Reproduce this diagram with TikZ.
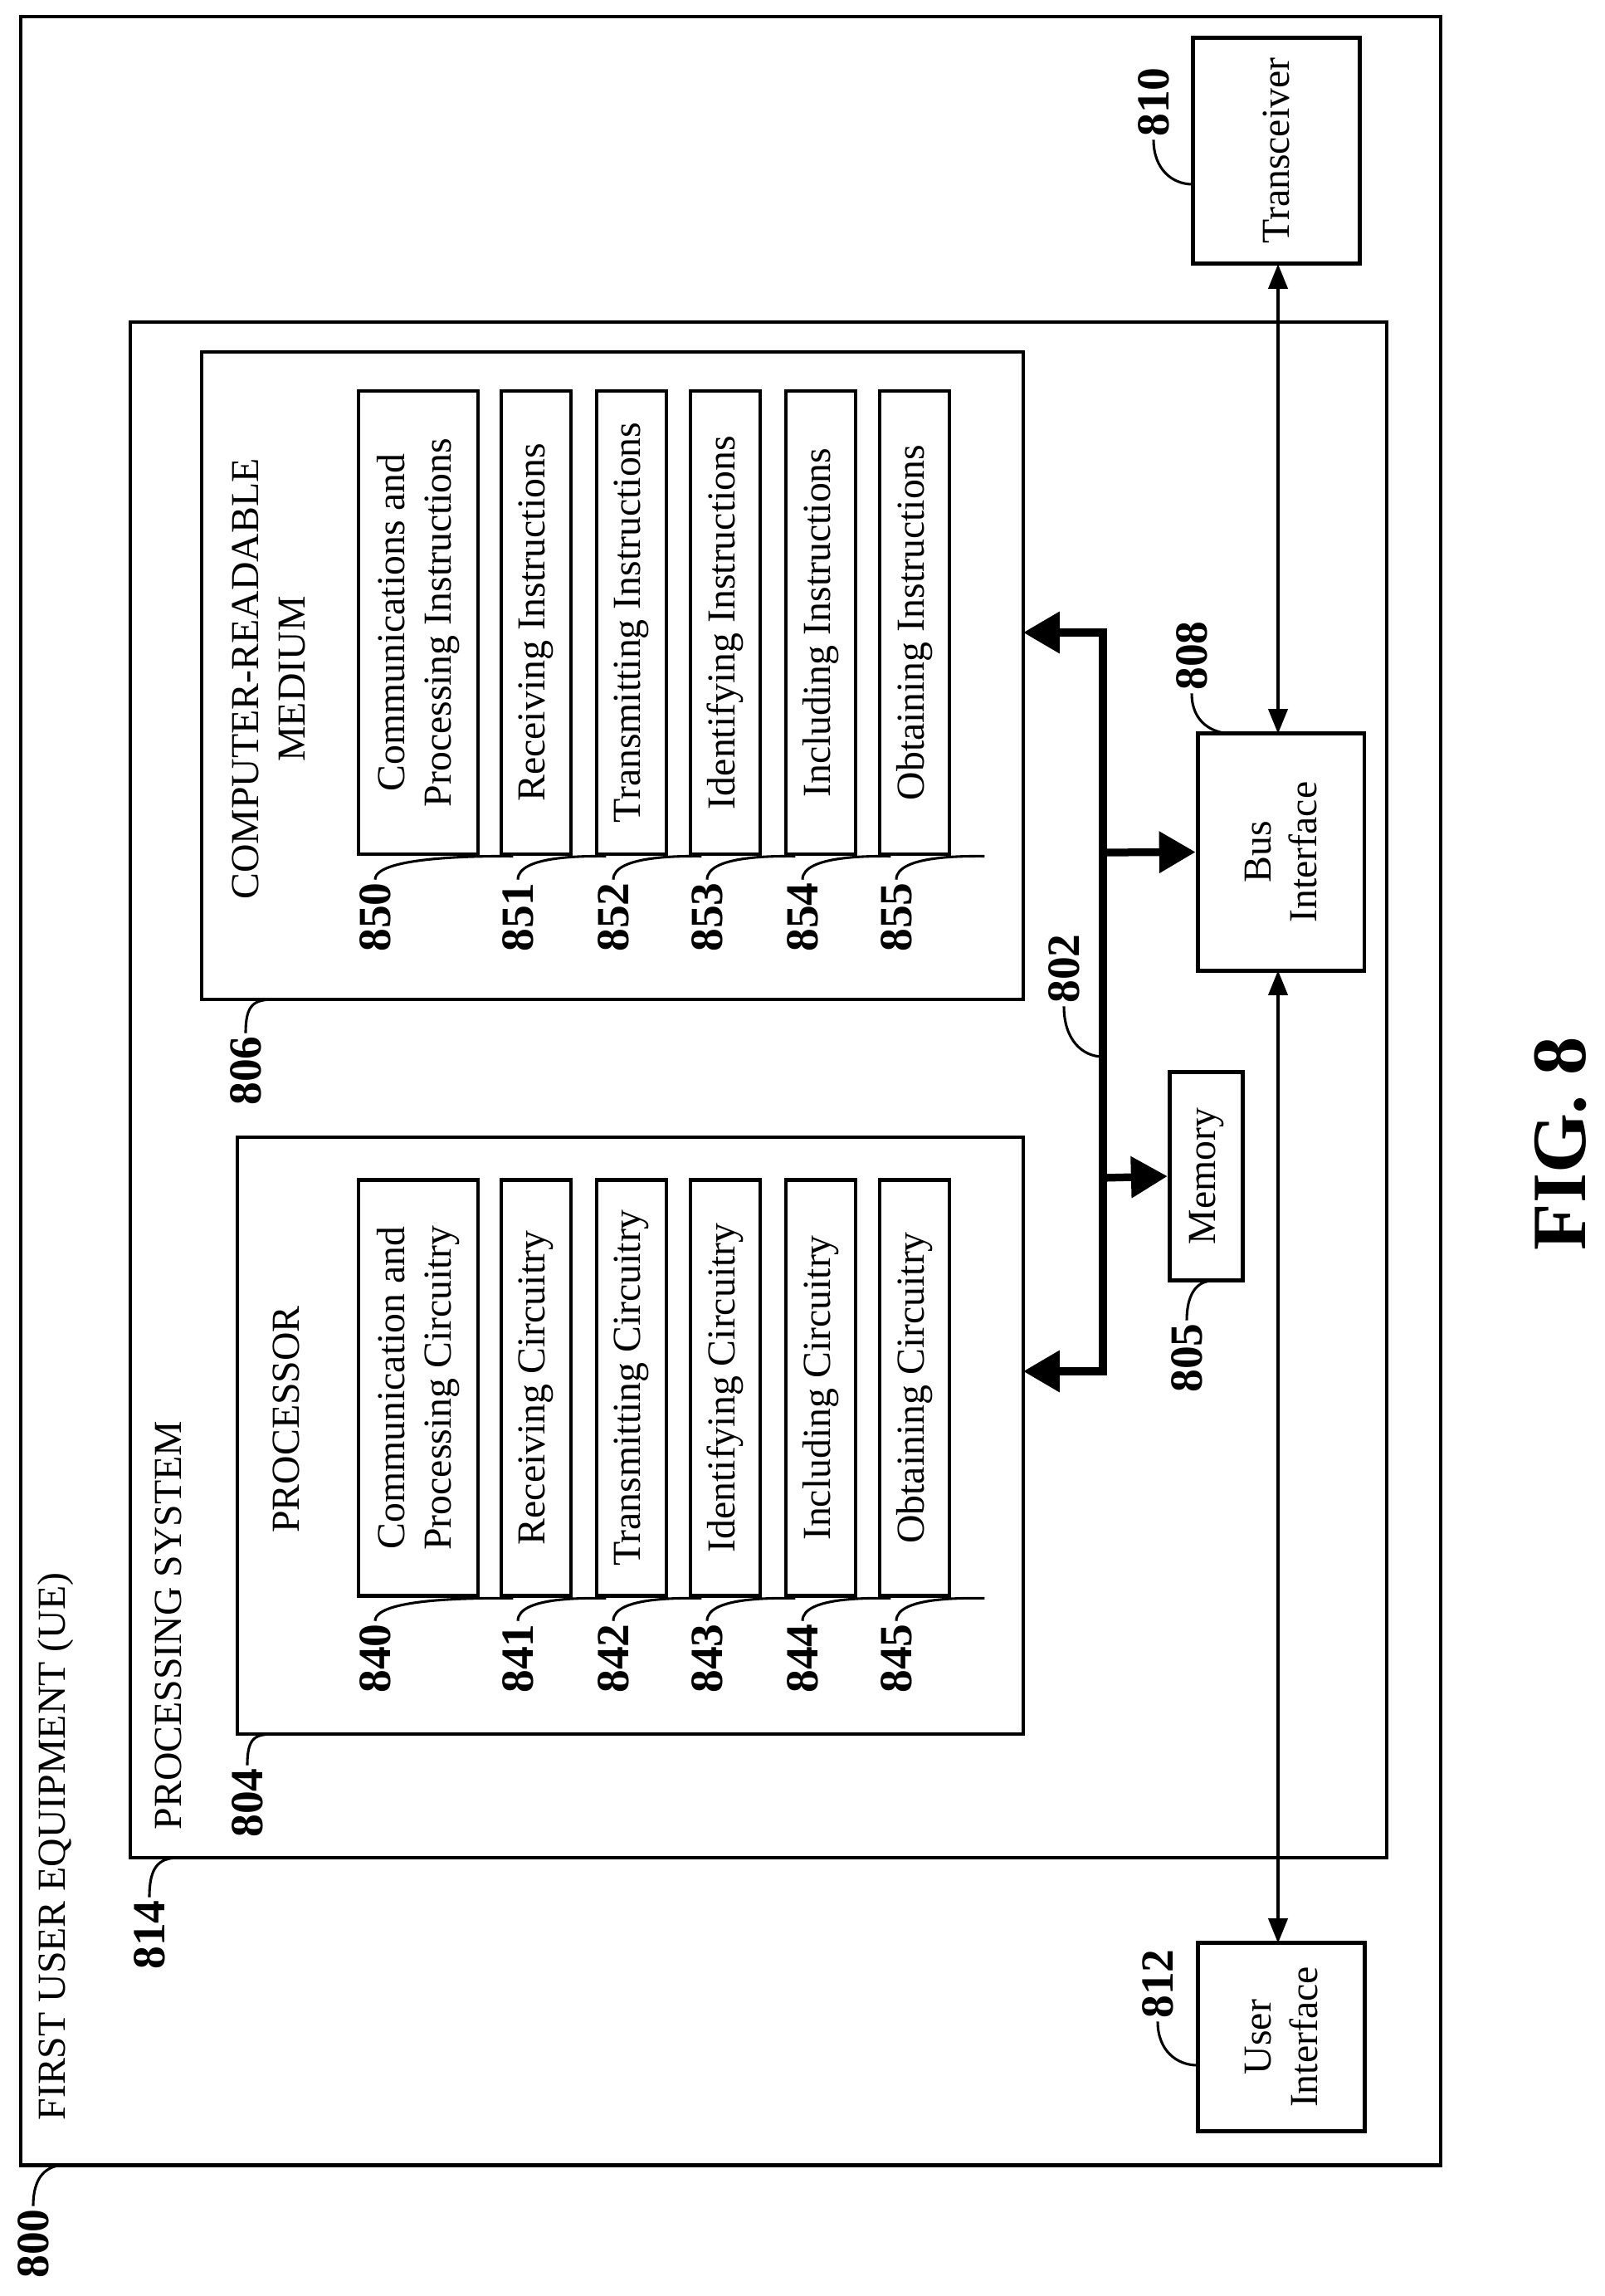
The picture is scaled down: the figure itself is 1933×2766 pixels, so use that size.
\documentclass[tikz,border=0pt]{standalone}
\usepackage{fontspec}
\setmainfont{Liberation Serif}
\usetikzlibrary{arrows.meta}

\tikzset{
  frame/.style={draw, line width=1.6pt},
  box/.style={draw, line width=1.6pt, rotate=90, align=center, inner sep=2pt,
    font=\fontsize{15.5}{18}\selectfont},
  head/.style={rotate=90, align=center, inner sep=0pt, font=\fontsize{15.5}{18}\selectfont},
  num/.style={rotate=90, inner sep=1pt, font=\bfseries\fontsize{18}{20}\selectfont},
  lead/.style={line width=1pt},
  bus/.style={line width=3pt, -{Triangle[length=0.5cm,width=0.55cm]}},
  link/.style={line width=1.4pt, {Triangle[length=0.34cm,width=0.26cm]}-{Triangle[length=0.34cm,width=0.26cm]}}
}

\begin{document}
\begin{tikzpicture}[x=0.0114cm, y=-0.0114cm]
\useasboundingbox (0,0) rectangle (1933,2766);

% frames and headings
\draw[frame] (25,20) rectangle (1736,2608);
\node[head, anchor=west] (ue) at (67,2555) {FIRST USER EQUIPMENT (UE)};
\draw[frame] (157,388) rectangle (1671,2238);
\node[head, anchor=west] (ps) at (203,2205) {PROCESSING SYSTEM};
\draw[frame] (286,1370) rectangle (1233,2089);
\node[head] (proc) at (345,1710) {PROCESSOR};
\draw[frame] (243,424) rectangle (1233,1204);
\node[head] (crm) at (324,818) {COMPUTER-READABLE\\MEDIUM};

% instruction and circuitry boxes
\foreach \cx/\w/\n/\pt/\ct in {
  504/144/0/{Communication and\\Processing Circuitry}/{Communications and\\Processing Instructions},
  646/84/1/{Receiving Circuitry}/{Receiving Instructions},
  761/84/2/{Transmitting Circuitry}/{Transmitting Instructions},
  874/84/3/{Identifying Circuitry}/{Identifying Instructions},
  989/84/4/{Including Circuitry}/{Including Instructions},
  1102/84/5/{Obtaining Circuitry}/{Obtaining Instructions}}{
  \node[box, minimum width=5.72cm, minimum height=\w*0.0114cm] (p\n) at (\cx,1672) {\pt};
  \node[box, minimum width=6.36cm, minimum height=\w*0.0114cm] (c\n) at (\cx,750) {\ct};
  \node[num] (lp\n) at (\cx-\w/2+20,1998) {84\n};
  \node[num] (lc\n) at (\cx-\w/2+20,1105) {85\n};
  \draw[lead] (lp\n.east) .. controls +(0,-30) and +(-20,0) .. ([xshift=40*0.0114cm]p\n.south west);
  \draw[lead] (lc\n.east) .. controls +(0,-30) and +(-20,0) .. ([xshift=40*0.0114cm]c\n.south west);
}

% side boxes
\node[box, minimum width=3.11cm, minimum height=2.30cm] (xcvr) at (1538,181.5) {Transceiver};
\node[box, minimum width=3.25cm, minimum height=2.29cm] (bus) at (1543.5,1026.5) {Bus\\Interface};
\node[box, minimum width=2.87cm, minimum height=1.01cm] (mem) at (1453.5,1417) {Memory};
\node[box, minimum width=2.58cm, minimum height=2.30cm] (ui) at (1544,2454) {User\\Interface};

% bus 802
\coordinate (btop) at (1329,762);
\coordinate (bbot) at (1329,1652);
\draw[line width=3pt] ([yshift=1.5pt]btop) -- ([yshift=-1.5pt]bbot);
\draw[bus] (btop) -- (1233,762);
\draw[bus] (bbot) -- (1233,1652);
\draw[bus] (1329,1027) -- (bus.north);
\draw[bus] (1329,1419) -- (mem.north);
\draw[link] (1540,318) -- (1540,884);
\draw[link] (1540,1169) -- (1540,2341);

% reference numerals
\node[num] (l800) at (40,2703) {800};
\draw[lead] (l800.east) .. controls +(0,-35) and +(-25,0) .. (80,2608);
\node[num] (l814) at (180,2331) {814};
\draw[lead] (l814.east) .. controls +(0,-35) and +(-25,0) .. (215,2238);
\node[num] (l804) at (298,2172) {804};
\draw[lead] (l804.east) .. controls +(0,-35) and +(-25,0) .. (333,2089);
\node[num] (l806) at (296,1290) {806};
\draw[lead] (l806.east) .. controls +(0,-35) and +(-25,0) .. (331,1204);
\node[num] (l805) at (1430,1636) {805};
\draw[lead] (l805.east) .. controls +(0,-30) and +(-20,0) .. (1461,1543);
\node[num] (l802) at (1282,1167) {802};
\draw[lead] (l802.west) .. controls +(0,40) and +(-25,0) .. (1329,1273);
\node[num] (l808) at (1436,790) {808};
\draw[lead] (l808.west) .. controls +(0,35) and +(-25,0) .. (1486,884);
\node[num] (l810) at (1390,123) {810};
\draw[lead] (l810.west) .. controls +(0,35) and +(-25,0) .. (1437,222);
\node[num] (l812) at (1395,2390) {812};
\draw[lead] (l812.west) .. controls +(0,35) and +(-25,0) .. (1443,2488);

\node[rotate=90, font=\bfseries\fontsize{30}{34}\selectfont] (fig) at (1880,1378) {FIG. 8};
\end{tikzpicture}
\end{document}
